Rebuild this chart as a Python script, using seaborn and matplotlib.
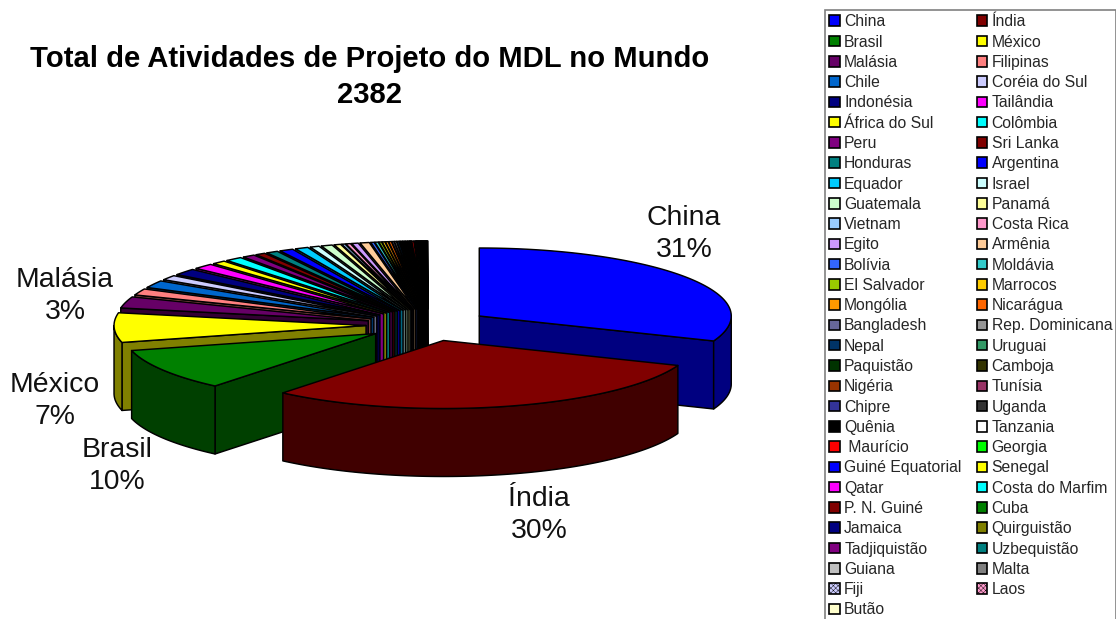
import numpy as np
import matplotlib
matplotlib.use("Agg")
import matplotlib.pyplot as plt
from matplotlib.patches import Patch, Polygon
import seaborn as sns

countries = ["China", "Índia", "Brasil", "México", "Malásia", "Filipinas", "Chile", "Coréia do Sul",
             "Indonésia", "Tailândia", "África do Sul", "Colômbia", "Peru", "Sri Lanka", "Honduras",
             "Argentina", "Equador", "Israel", "Guatemala", "Panamá", "Vietnam", "Costa Rica", "Egito",
             "Armênia", "Bolívia", "Moldávia", "El Salvador", "Marrocos", "Mongólia", "Nicarágua",
             "Bangladesh", "Rep. Dominicana", "Nepal", "Uruguai", "Paquistão", "Camboja", "Nigéria",
             "Tunísia", "Chipre", "Uganda", "Quênia", "Tanzania", " Maurício", "Georgia",
             "Guiné Equatorial", "Senegal", "Qatar", "Costa do Marfim", "P. N. Guiné", "Cuba", "Jamaica",
             "Quirguistão", "Tadjiquistão", "Uzbequistão", "Guiana", "Malta", "Fiji", "Laos", "Butão"]
projects = [738, 715, 238, 167, 64, 36, 42, 27,
            37, 31, 21, 26, 19, 15, 18,
            21, 20, 14, 17, 10, 5, 7, 10,
            14, 5, 5, 4, 4, 4, 4,
            3, 3, 3, 2, 2, 2, 2,
            2, 2, 1, 1, 1, 3, 2,
            1, 1, 1, 1, 1, 1, 1,
            1, 1, 1, 1, 1, 1, 1, 1]
colors = ["#0000FF", "#800000", "#008000", "#FFFF00", "#660066", "#FF8080", "#0066CC", "#CCCCFF",
          "#000080", "#FF00FF", "#FFFF00", "#00FFFF", "#800080", "#800000", "#008080",
          "#0000FF", "#00CCFF", "#CCFFFF", "#CCFFCC", "#FFFF99", "#99CCFF", "#FF99CC", "#CC99FF",
          "#FFCC99", "#3366FF", "#33CCCC", "#99CC00", "#FFCC00", "#FF9900", "#FF6600",
          "#666699", "#969696", "#003366", "#339966", "#003300", "#333300", "#993300",
          "#993366", "#333399", "#333333", "#000000", "#FFFFFF", "#FF0000", "#00FF00",
          "#0000FF", "#FFFF00", "#FF00FF", "#00FFFF", "#800000", "#008000", "#000080",
          "#808000", "#800080", "#008080", "#C0C0C0", "#808080", "#CCCCFF", "#FF99CC", "#FFFFCC"]
labelled = {"China": (684, 234), "Índia": (539, 515), "Brasil": (117, 466),
            "México": (55, 401), "Malásia": (65, 296)}

# geometry of the tilted pie, in pixels
cx, cy = 428, 325
rx, ry = 252, 68
ex, ey = 62, 16
depth = 68

sns.set_style("white")
plt.rcParams["font.family"] = ["Liberation Sans", "DejaVu Sans"]
plt.rcParams["hatch.linewidth"] = 0.3

fig = plt.figure(figsize=(11.16, 6.19), dpi=100)
ax = fig.add_axes([0, 0, 1, 1])
ax.set_xlim(0, 1116)
ax.set_ylim(619, 0)
ax.axis("off")

total = sum(projects)
edges = np.cumsum([0] + projects) * 360 / total
palette = sns.color_palette(colors)


def rim(ax_x, ax_y, a, b):
    t = np.radians(np.linspace(a, b, max(int(abs(b - a)) + 2, 2)))
    return np.column_stack([ax_x + rx * np.sin(t), ax_y - ry * np.cos(t)])


def draw_slice(i):
    a, b = edges[i], edges[i + 1]
    mid = np.radians((a + b) / 2)
    px, py = cx + ex * np.sin(mid), cy - ey * np.cos(mid)
    col = palette[i]
    dark = tuple(c * 0.5 for c in col)
    style = dict(edgecolor="black", linewidth=1.05, joinstyle="round")
    down = np.array([0, depth])
    apex = np.array([px, py])
    # cut faces first
    for ang, show in ((a, 180 < a < 360), (b, 0 < b < 180)):
        if show:
            tip = rim(px, py, ang, ang)[0]
            ax.add_patch(Polygon([apex, tip, tip + down, apex + down], facecolor=dark, **style))
    # outer wall, only the near half of the rim
    lo, hi = max(a, 90), min(b, 270)
    if lo < hi:
        arc = rim(px, py, lo, hi)
        ax.add_patch(Polygon(np.vstack([arc, arc[::-1] + down]), facecolor=dark, **style))
    top = np.vstack([apex, rim(px, py, a, b)])
    ax.add_patch(Polygon(top, facecolor=col, **style))


# back slices first, the two big ones last
for i in list(range(len(projects) - 1, 1, -1)) + [0, 1]:
    draw_slice(i)

for name, (x, y) in labelled.items():
    pct = round(100 * projects[countries.index(name)] / total)
    ax.text(x, y, f"{name}\n{pct}%", fontsize=20.4, ha="center", va="center", color="#111111", linespacing=1.34)

ax.text(370, 77, f"Total de Atividades de Projeto do MDL no Mundo\n{total}", fontsize=21.1,
        fontweight="bold", ha="center", va="center", color="black", linespacing=1.33)

# legend reads across the rows, matplotlib fills columns
handles = []
for name, col in zip(countries, palette):
    hatch = "xxxxxxx" if name in ("Fiji", "Laos") else None
    handles.append(Patch(facecolor=col, edgecolor="black", linewidth=1.2, hatch=hatch, label=name))
order = list(range(0, len(handles), 2)) + list(range(1, len(handles), 2))
leg = ax.legend([handles[i] for i in order], [countries[i] for i in order], ncols=2,
                loc="upper left", bbox_to_anchor=(825, 10), bbox_transform=ax.transData,
                borderaxespad=0, fontsize=11.35, frameon=True, fancybox=False, edgecolor="#808080",
                framealpha=1, handlelength=0.65, handleheight=0.65, handletextpad=0.3,
                labelspacing=0.335, columnspacing=0.95, borderpad=0.27)
leg.get_frame().set_linewidth(1.2)

fig.savefig("out.png", dpi=100)
